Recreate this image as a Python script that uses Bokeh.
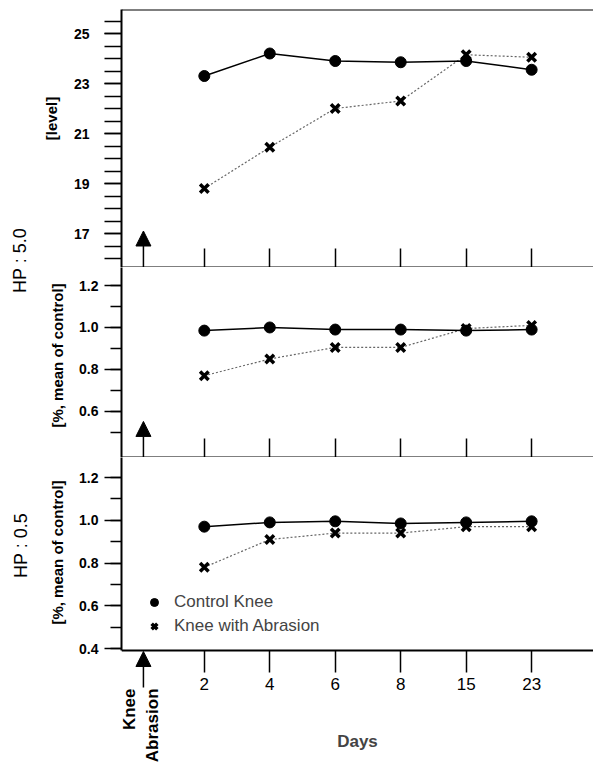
import math
import numpy as np
from bokeh.plotting import figure
from bokeh.layouts import row, column
from bokeh.models import (Range1d, FixedTicker, LinearAxis, Arrow, NormalHead,
                          Legend, LegendItem, NumeralTickFormatter)
from bokeh.core.properties import value
from bokeh.embed import file_html
from bokeh.resources import INLINE

# ---------------- data ----------------
days = ["2", "4", "6", "8", "15", "23"]
hp50_level_control = [23.3, 24.2, 23.9, 23.85, 23.9, 23.55]
hp50_level_abrasion = [18.8, 20.45, 22.0, 22.3, 24.15, 24.05]
hp50_pct_control = [0.985, 1.0, 0.99, 0.99, 0.985, 0.99]
hp50_pct_abrasion = [0.77, 0.85, 0.905, 0.905, 0.995, 1.01]
hp05_pct_control = [0.97, 0.99, 0.995, 0.985, 0.99, 0.995]
hp05_pct_abrasion = [0.78, 0.91, 0.94, 0.94, 0.97, 0.97]
level_ticks = [17, 19, 21, 23, 25]
pct_ticks_mid = [0.6, 0.8, 1.0, 1.2]
pct_ticks_bot = [0.4, 0.6, 0.8, 1.0, 1.2]

FONT = "Liberation Sans"
xi = list(range(1, len(days) + 1))
labels_x = {i: d for i, d in zip(xi, days)}
blank_x = {i: "" for i in xi}
X0, X1 = -0.265, 6.945
XB0 = -0.524
ARROW_X = 0.07

LBL_W = 70
TOTAL_W = 593
PW = TOTAL_W - LBL_W
H1, H2, H3 = 267, 190, 306
TOTAL_H = H1 + H2 + H3


def base_fig(h, y0, y1, top_border):
    p = figure(width=PW, height=h, x_range=Range1d(X0, X1), y_range=Range1d(y0, y1),
               output_backend="svg", toolbar_location=None,
               min_border_left=50, min_border_right=0,
               min_border_top=top_border, min_border_bottom=0)
    p.outline_line_color = None
    p.grid.visible = False
    p.background_fill_color = "white"
    p.border_fill_color = "white"
    return p


def style_y(p, ticks, minor, fmt, standoff, minor_out):
    ax = p.yaxis[0]
    ax.ticker = FixedTicker(ticks=ticks, minor_ticks=minor)
    ax.formatter = NumeralTickFormatter(format=fmt)
    ax.axis_line_width = 2
    ax.axis_line_color = "black"
    ax.major_tick_out = 17
    ax.major_tick_in = 0
    ax.minor_tick_out = minor_out
    ax.minor_tick_in = 0
    ax.major_tick_line_width = 1.5
    ax.minor_tick_line_width = 1.5
    ax.major_label_text_font = FONT
    ax.major_label_text_font_style = "bold"
    ax.major_label_text_font_size = "14px"
    ax.major_label_text_color = "black"
    ax.major_label_standoff = standoff


def style_x_inner(p, loc):
    ax = p.xaxis[0]
    ax.ticker = FixedTicker(ticks=xi)
    ax.major_label_overrides = blank_x
    ax.fixed_location = loc
    ax.bounds = (XB0, X1)
    ax.axis_line_width = 2
    ax.major_tick_in = 19
    ax.major_tick_out = 0
    ax.minor_tick_in = 0
    ax.minor_tick_out = 0
    ax.major_tick_line_width = 1.5
    ax.major_label_standoff = 0


def draw_series(p, ctrl, abr):
    p.line(xi, abr, line_color="#666666", line_width=1.2, line_dash="2 2")
    p.line(xi, ctrl, line_color="black", line_width=1.5)
    c = p.scatter(xi, ctrl, marker="circle", size=11, fill_color="black", line_color="black")
    a = p.scatter(xi, abr, marker="x", size=12, line_color="black", line_width=3.5)
    return c, a


def head():
    return NormalHead(size=15, fill_color="black", line_color="black")


# ---------------- top panel (HP 5.0, level) ----------------
Y1 = (15.64, 25.96)
p1 = base_fig(H1, Y1[0], Y1[1], 9)
style_y(p1, level_ticks, list(np.arange(16.0, 26.0, 0.5)), "0", 15, 17)
style_x_inner(p1, Y1[0])
top_ax = LinearAxis(ticker=FixedTicker(ticks=[]), major_tick_in=0, major_tick_out=0,
                    minor_tick_in=0, minor_tick_out=0,
                    axis_line_width=2, fixed_location=Y1[1], bounds=(XB0, X1))
p1.add_layout(top_ax, "above")
draw_series(p1, hp50_level_control, hp50_level_abrasion)
p1.add_layout(Arrow(end=head(), x_start=ARROW_X, y_start=Y1[0], x_end=ARROW_X, y_end=17.1,
                    line_width=1.5, line_color="black"))

# ---------------- middle panel (HP 5.0, %) ----------------
Y2 = (0.38, 1.286)
p2 = base_fig(H2, Y2[0], Y2[1], 0)
style_y(p2, pct_ticks_mid, [0.5, 0.6, 0.7, 0.8, 0.9, 1.0, 1.1, 1.2], "0.0", 6, 11)
style_x_inner(p2, Y2[0])
draw_series(p2, hp50_pct_control, hp50_pct_abrasion)
p2.add_layout(Arrow(end=head(), x_start=ARROW_X, y_start=Y2[0], x_end=ARROW_X, y_end=0.552,
                    line_width=1.5, line_color="black"))

# ---------------- bottom panel (HP 0.5, %) ----------------
Y3 = (1.2936 - H3 / 213.75, 1.2936)
AX3 = 0.39
p3 = base_fig(H3, Y3[0], Y3[1], 0)
style_y(p3, pct_ticks_bot, [0.4, 0.5, 0.6, 0.7, 0.8, 0.9, 1.0, 1.1, 1.2], "0.0", 6, 11)
p3.yaxis[0].bounds = (AX3, Y3[1])
ax3 = p3.xaxis[0]
ax3.ticker = FixedTicker(ticks=xi)
ax3.major_label_overrides = labels_x
ax3.fixed_location = AX3
ax3.bounds = (XB0, X1)
ax3.axis_line_width = 2
ax3.major_tick_in = 0
ax3.major_tick_out = 22
ax3.minor_tick_in = 0
ax3.minor_tick_out = 0
ax3.major_tick_line_width = 1.5
ax3.major_label_text_font = FONT
ax3.major_label_text_font_size = "17px"
ax3.major_label_text_color = "black"
ax3.major_label_standoff = 5
ax3.axis_label = "Days"
ax3.axis_label_text_font = FONT
ax3.axis_label_text_font_style = "bold"
ax3.axis_label_text_font_size = "17px"
ax3.axis_label_standoff = 39
c3, a3 = draw_series(p3, hp05_pct_control, hp05_pct_abrasion)
p3.add_layout(Arrow(end=head(), x_start=ARROW_X, y_start=0.2176, x_end=ARROW_X, y_end=0.386,
                    line_width=1.5, line_color="black"))
p3.text(x=[-0.143, 0.207], y=[0.213, 0.213], text=["Knee", "Abrasion"],
        angle=math.pi / 2, text_align="right", text_baseline="middle",
        text_font=value(FONT), text_font_style="bold", text_font_size="17px",
        text_color="black")
legend = Legend(items=[LegendItem(label="Control Knee", renderers=[c3]),
                       LegendItem(label="Knee with Abrasion", renderers=[a3])],
                location=(23, 127), border_line_color=None, background_fill_alpha=0,
                glyph_width=20, glyph_height=20, label_height=20, spacing=4,
                label_standoff=10, padding=10, margin=0,
                label_text_font=FONT, label_text_font_size="17px")
p3.add_layout(legend)

# ---------------- left label strip ----------------
pl = figure(width=LBL_W, height=TOTAL_H, x_range=Range1d(0, LBL_W),
            y_range=Range1d(TOTAL_H, 0), output_backend="svg", toolbar_location=None,
            x_axis_location=None, y_axis_location=None,
            min_border_left=0, min_border_right=0, min_border_top=0, min_border_bottom=0)
pl.outline_line_color = None
pl.grid.visible = False
pl.text(x=[19, 20], y=[260, 545], text=["HP : 5.0", "HP : 0.5"], angle=math.pi / 2,
        text_align="center", text_baseline="middle", text_font=value(FONT),
        text_font_size="18px", text_color="black")
pl.text(x=[51, 57, 57], y=[118, 355, 552],
        text=["[level]", "[%, mean of control]", "[%, mean of control]"],
        angle=math.pi / 2, text_align="center", text_baseline="middle",
        text_font=value(FONT), text_font_style="bold", text_font_size="15px",
        text_color="black")

layout = row(pl, column(p1, p2, p3, spacing=0), spacing=0)
open("out.html", "w").write(file_html(layout, INLINE))
